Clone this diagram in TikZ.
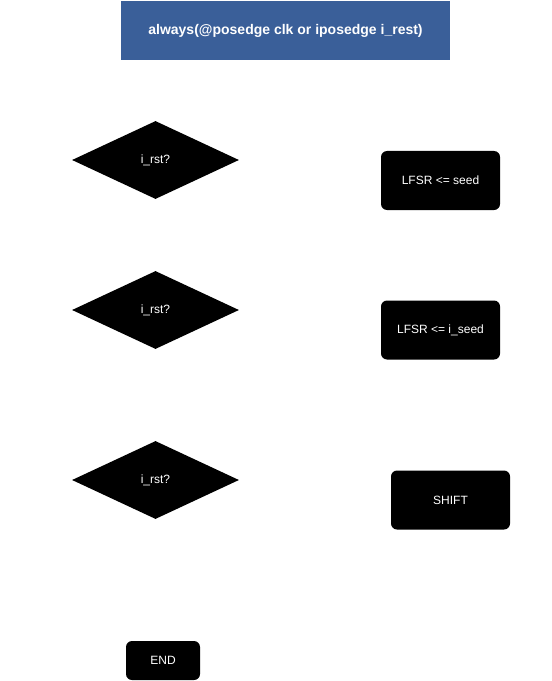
\documentclass[tikz,border=0pt]{standalone}
\usepackage{fontspec}
\setmainfont{Liberation Sans}
\usepackage{tikz}
\usetikzlibrary{positioning,shapes.geometric}
\definecolor{titleblue}{RGB}{58,95,153}

\begin{document}
\begin{tikzpicture}[
x=0.75pt,y=-0.75pt,
mytitle/.style={
  fill=titleblue,
  text=white,
  font=\fontsize{10.5}{12}\selectfont\bfseries,
  minimum width=246.75pt,
  minimum height=44.25pt,
  inner sep=0pt},
mydiamond/.style={
  diamond,
  fill=black,
  text=white,
  font=\fontsize{9}{11}\selectfont,
  minimum width=125.25pt,
  minimum height=58.5pt,
  inner sep=0pt},
mybox/.style={
  rectangle,
  rounded corners=4.5pt,
  fill=black,
  text=white,
  font=\fontsize{9}{11}\selectfont,
  minimum width=89.25pt,
  minimum height=44.25pt,
  inner sep=0pt}
]
\useasboundingbox (0,0) rectangle (551,681);
\node[mytitle] (always) at (285.5,30.5) {always(@posedge clk or iposedge i\_rest)};
\node[mydiamond] (rst1) at (155.5,160) {i\_rst?};
\node[mydiamond] (rst2) at (155.5,310) {i\_rst?};
\node[mydiamond] (rst3) at (155.5,480) {i\_rst?};
\node[mybox] (seed) at (440.5,180.5) {LFSR <= seed};
\node[mybox] (iseed) at (440.5,330) {LFSR <= i\_seed};
\node[mybox] (shift) at (450.5,500) {SHIFT};
\node[mybox,minimum width=55.5pt,minimum height=29.25pt] (end) at (163,660.5) {END};
\end{tikzpicture}
\end{document}
